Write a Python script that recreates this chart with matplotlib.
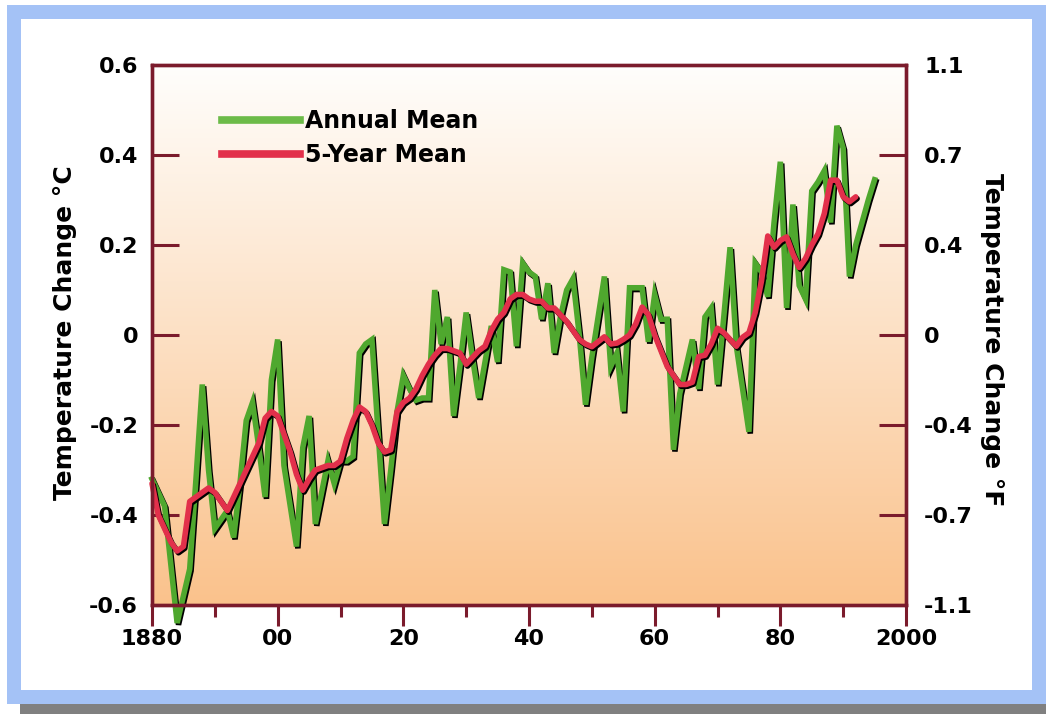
import matplotlib
matplotlib.use("Agg")
import matplotlib.pyplot as plt
import matplotlib.patheffects as pe
from matplotlib.patches import Rectangle
from matplotlib.lines import Line2D
import numpy as np

# ---------------- data ----------------
annual_years = list(range(1880, 1996))
annual_mean = [
    -0.32, -0.35, -0.38, -0.51, -0.64, -0.58, -0.52, -0.32, -0.11, -0.30,   # 1880s
    -0.43, -0.41, -0.39, -0.45, -0.33, -0.19, -0.15, -0.25, -0.36, -0.10,   # 1890s
    -0.01, -0.29, -0.38, -0.47, -0.25, -0.18, -0.42, -0.35, -0.28, -0.33,   # 1900s
    -0.28, -0.28, -0.27, -0.04, -0.02, -0.01, -0.22, -0.42, -0.30, -0.17,   # 1910s
    -0.09, -0.12, -0.145, -0.14, -0.14, 0.10, -0.02, 0.04, -0.18, -0.07,    # 1920s
    0.05, -0.05, -0.14, -0.06, 0.02, -0.06, 0.145, 0.14, -0.025, 0.16,      # 1930s
    0.14, 0.13, 0.035, 0.115, -0.04, 0.04, 0.10, 0.125, 0.0, -0.155,        # 1940s
    -0.05, 0.04, 0.13, -0.07, -0.04, -0.17, 0.105, 0.105, 0.105, -0.015,    # 1950s
    0.09, 0.035, 0.035, -0.255, -0.13, -0.07, -0.01, -0.12, 0.04, 0.06,     # 1960s
    -0.11, 0.04, 0.195, -0.025, -0.12, -0.215, 0.16, 0.14, 0.085, 0.25,     # 1970s
    0.385, 0.06, 0.29, 0.11, 0.08, 0.32, 0.34, 0.365, 0.25, 0.465,          # 1980s
    0.415, 0.13, 0.20, 0.25, 0.30, 0.345,                                   # 1990s
]

five_year_years = list(range(1880, 1993))
five_year_mean = [
    -0.33, -0.40, -0.43, -0.46, -0.48, -0.47, -0.37, -0.36, -0.35, -0.34,
    -0.35, -0.37, -0.39, -0.36, -0.33, -0.30, -0.27, -0.24, -0.185, -0.17,
    -0.18, -0.22, -0.26, -0.31, -0.345, -0.32, -0.30, -0.295, -0.29, -0.29,
    -0.28, -0.23, -0.19, -0.16, -0.17, -0.20, -0.24, -0.26, -0.255, -0.17,
    -0.15, -0.14, -0.12, -0.09, -0.065, -0.045, -0.03, -0.03, -0.035, -0.04,
    -0.065, -0.05, -0.035, -0.025, 0.01, 0.035, 0.05, 0.08, 0.09, 0.09,
    0.08, 0.075, 0.075, 0.06, 0.06, 0.045, 0.03, 0.01, -0.01, -0.02,
    -0.026, -0.015, -0.004, -0.02, -0.018, -0.01, 0.0, 0.025, 0.062, 0.045,
    0.0, -0.035, -0.07, -0.09, -0.11, -0.11, -0.105, -0.048, -0.045, -0.02,
    0.015, 0.005, -0.01, -0.025, -0.005, 0.005, 0.05, 0.12, 0.22, 0.195,
    0.21, 0.218, 0.18, 0.15, 0.17, 0.20, 0.225, 0.27, 0.344, 0.344,
    0.307, 0.296, 0.307,
]

series_names = ["Annual Mean", "5-Year Mean"]
x_major_ticks = [1880, 1900, 1920, 1940, 1960, 1980, 2000]
x_tick_labels = ["1880", "00", "20", "40", "60", "80", "2000"]
x_minor_ticks = [1890, 1910, 1930, 1950, 1970, 1990]
c_ticks = [0.6, 0.4, 0.2, 0.0, -0.2, -0.4, -0.6]
c_tick_labels = ["0.6", "0.4", "0.2", "0", "-0.2", "-0.4", "-0.6"]
f_tick_labels = ["1.1", "0.7", "0.4", "0", "-0.4", "-0.7", "-1.1"]

# ---------------- style ----------------
W, H = 1046, 714
plt.rcParams["font.family"] = ["DejaVu Sans"]
plt.rcParams["font.weight"] = "bold"

GREEN = "#4fa82e"
RED = "#e2304b"
MAROON = "#7b1b2c"
BLUE = "#a4c2f6"

fig = plt.figure(figsize=(W / 100, H / 100), dpi=100)
fig.patch.set_facecolor("white")

def frect(x0, y0, x1, y1, color):
    r = Rectangle((x0 / W, 1 - y1 / H), (x1 - x0) / W, (y1 - y0) / H,
                  transform=fig.transFigure, facecolor=color, edgecolor="none",
                  zorder=-10)
    fig.patches.append(r)

frect(20, 704, 1046, 714, "#808080")   # drop shadow
frect(7, 5, 1046, 704, BLUE)           # blue frame
frect(21, 19, 1032, 690, "white")      # inner panel

ax = fig.add_axes([152 / W, 1 - 605 / H, 754 / W, 540 / H])
ax.set_xlim(1880, 2000)
ax.set_ylim(-0.6, 0.6)
ax.patch.set_visible(False)

# vertical gradient background
top = np.array([255, 254, 252]) / 255
bot = np.array([250, 194, 140]) / 255
t = np.linspace(0, 1, 256)[:, None]
grad = bot * (1 - t) + top * t
grad = np.repeat(grad[:, None, :], 2, axis=1)
ax.imshow(grad, extent=[1880, 2000, -0.6, 0.6], origin="lower",
          aspect="auto", zorder=0, interpolation="bilinear")

shadow = [pe.SimpleLineShadow(offset=(1.0, -1.3), shadow_color="black", alpha=1.0),
          pe.Normal()]
ax.plot(annual_years, annual_mean, color=GREEN, lw=4.0, solid_joinstyle="miter",
        path_effects=shadow, zorder=3, clip_on=False)
ax.plot(five_year_years, five_year_mean, color=RED, lw=4.0, solid_joinstyle="round",
        solid_capstyle="round", path_effects=shadow, zorder=4, clip_on=False)

for s in ax.spines.values():
    s.set_color(MAROON)
    s.set_linewidth(2.4)
    s.set_zorder(5)

ax.set_xticks(x_major_ticks)
ax.set_xticklabels(x_tick_labels)
ax.set_xticks(x_minor_ticks, minor=True)
ax.tick_params(axis="x", which="major", direction="out", length=15, width=2.2,
               color=MAROON, labelsize=16, pad=2)
ax.tick_params(axis="x", which="minor", direction="out", length=8.5, width=2.2,
               color=MAROON)
ax.set_yticks(c_ticks)
ax.set_yticklabels(c_tick_labels)
ax.tick_params(axis="y", direction="in", length=19.5, width=2.2, color=MAROON,
               labelsize=16, pad=10)

ax2 = ax.twinx()
ax2.set_ylim(-0.6, 0.6)
ax2.set_yticks(c_ticks)
ax2.set_yticklabels(f_tick_labels)
ax2.tick_params(axis="y", direction="in", length=19.5, width=2.2, color=MAROON,
                labelsize=16, pad=13)
for s in ax2.spines.values():
    s.set_color(MAROON)
    s.set_linewidth(2.4)

fig.text(65 / W, 1 - 333 / H, "Temperature Change °C", rotation=90,
         ha="center", va="center", fontsize=18, fontweight="bold")
fig.text(992 / W, 1 - 340 / H, "Temperature Change °F", rotation=270,
         ha="center", va="center", fontsize=18, fontweight="bold")

handles = [Line2D([], [], color="#6cbb48", lw=5.5),
           Line2D([], [], color=RED, lw=5.5)]
ax.legend(handles, series_names, loc="upper left", bbox_to_anchor=(0.093, 0.918),
          frameon=False, prop={"size": 17, "weight": "bold"}, handlelength=3.3,
          handletextpad=0.2, labelspacing=0.42, borderpad=0, borderaxespad=0)

fig.savefig("out.png", dpi=100, facecolor="white")
